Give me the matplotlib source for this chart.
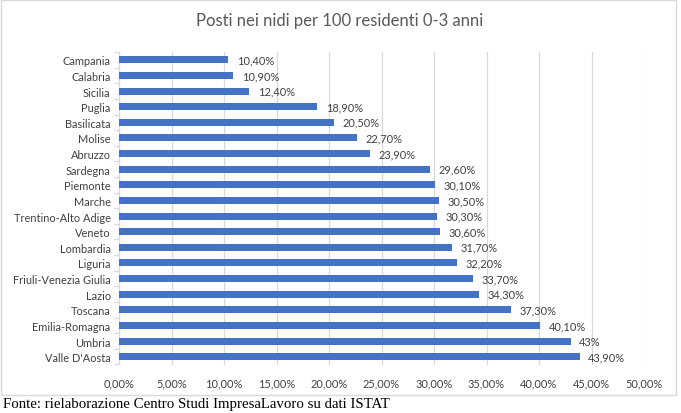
import matplotlib
matplotlib.use("Agg")
import matplotlib.pyplot as plt
from matplotlib.patches import Rectangle

regions = ["Campania", "Calabria", "Sicilia", "Puglia", "Basilicata", "Molise", "Abruzzo",
           "Sardegna", "Piemonte", "Marche", "Trentino-Alto Adige", "Veneto", "Lombardia",
           "Liguria", "Friuli-Venezia Giulia", "Lazio", "Toscana", "Emilia-Romagna",
           "Umbria", "Valle D'Aosta"]
values = [10.4, 10.9, 12.4, 18.9, 20.5, 22.7, 23.9, 29.6, 30.1, 30.5, 30.3, 30.6, 31.7,
          32.2, 33.7, 34.3, 37.3, 40.1, 43.0, 43.9]
value_labels = ["10,40%", "10,90%", "12,40%", "18,90%", "20,50%", "22,70%", "23,90%",
                "29,60%", "30,10%", "30,50%", "30,30%", "30,60%", "31,70%", "32,20%",
                "33,70%", "34,30%", "37,30%", "40,10%", "43%", "43,90%"]
xticks = [0, 5, 10, 15, 20, 25, 30, 35, 40, 45, 50]
xtick_labels = ["0,00%", "5,00%", "10,00%", "15,00%", "20,00%", "25,00%", "30,00%",
                "35,00%", "40,00%", "45,00%", "50,00%"]
title = "Posti nei nidi per 100 residenti 0-3 anni"
source = "Fonte: rielaborazione Centro Studi ImpresaLavoro su dati ISTAT"

plt.rcParams['font.family'] = ['Lato', 'DejaVu Sans']

fig = plt.figure(figsize=(6.81, 4.14), dpi=100)
fig.patch.set_facecolor("white")

# chart border
fig.patches.append(Rectangle((1/681, 1 - 396/414), 675/681, 395/414, transform=fig.transFigure,
                             fill=False, edgecolor="#D9D9D9", linewidth=1.0))

ax = fig.add_axes([119/681, 1 - 365.5/414, (644 - 119)/681, (365.5 - 53)/414])
ypos = list(range(len(regions)))
ax.barh(ypos, values, height=0.45, color="#4472C4", zorder=3)
ax.set_ylim(len(regions) - 0.5, -0.5)
ax.set_xlim(0, 50)
ax.set_yticks(ypos)
ax.set_yticklabels(regions, fontsize=7.9, color="#404040")
ax.set_yticks([i - 0.5 for i in range(len(regions) + 1)], minor=True)
ax.set_xticks(xticks)
ax.set_xticklabels(xtick_labels, fontsize=7.9, color="#404040")
ax.tick_params(axis='x', length=0, pad=9)
ax.tick_params(axis='y', which='major', length=0, pad=6)
ax.tick_params(axis='y', which='minor', length=3.5, width=0.9, color="#D9D9D9")
ax.xaxis.grid(True, color="#D9D9D9", linewidth=0.9, zorder=0)
for s in ["top", "right", "bottom"]:
    ax.spines[s].set_visible(False)
ax.spines["left"].set_color("#D9D9D9")
ax.spines["left"].set_linewidth(0.9)

for y, v, lab in zip(ypos, values, value_labels):
    ax.text(v + 0.8, y, lab, va="center", ha="left", fontsize=7.9, color="#404040")

fig.text(340/681, 1 - 21/414, title, ha="center", va="center", fontsize=12, color="#595959")
fig.text(3/681, 1 - 405/414, source, ha="left", va="center", fontsize=10.7,
         family=["Liberation Serif", "DejaVu Serif"], color="black")

fig.savefig("out.png", dpi=100, facecolor="white")
